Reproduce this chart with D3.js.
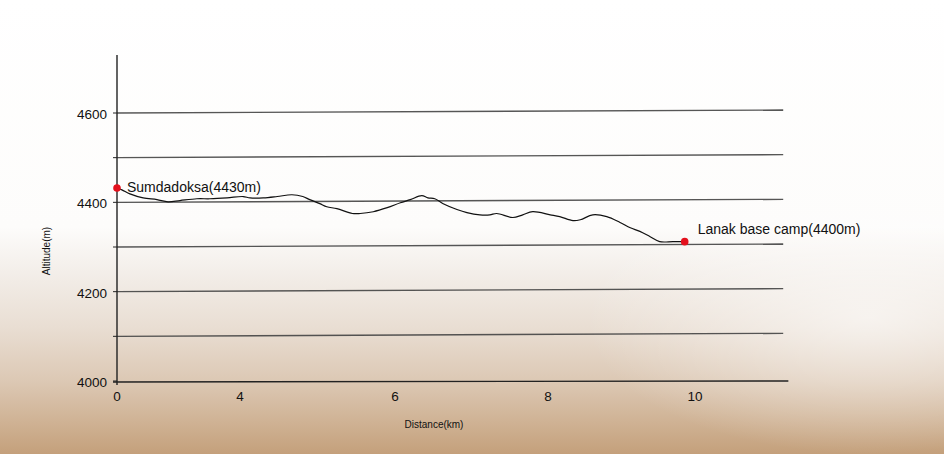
<!DOCTYPE html>
<html>
<head>
<meta charset="utf-8">
<script src="https://cdn.jsdelivr.net/npm/d3@7"></script>
<style>
  html, body { margin: 0; padding: 0; background: #fff; }
  svg { display: block; font-family: "Liberation Sans", Arial, Helvetica, sans-serif; }
</style>
</head>
<body>
<div id="chart"></div>
<script>
// trail profile, distance in km / altitude in m
const distance = [0, 0.16, 0.42, 0.85, 1.30, 1.66, 2.05, 2.60, 3.02, 3.58, 4.04, 4.13, 4.30, 4.48, 4.67,
    4.81, 4.90, 5.03, 5.12, 5.25, 5.45, 5.55, 5.72, 5.90, 6.07, 6.20, 6.35, 6.43, 6.52, 6.63,
    6.81, 6.94, 7.11, 7.24, 7.33, 7.54, 7.67, 7.80, 8.03, 8.16, 8.34, 8.44, 8.61, 8.80, 8.98,
    9.12, 9.25, 9.39, 9.52, 9.70, 9.86];
const altitude = [4432, 4428, 4419, 4410, 4406, 4401, 4404, 4408, 4408, 4410, 4413, 4410, 4410, 4413, 4417,
    4413, 4406, 4397, 4390, 4386, 4375, 4375, 4379, 4388, 4399, 4406, 4415, 4410, 4408, 4397,
    4384, 4377, 4372, 4372, 4375, 4366, 4372, 4379, 4372, 4368, 4359, 4361, 4372, 4368, 4355,
    4343, 4335, 4323, 4312, 4312, 4312];

const xTicks = [0, 4, 6, 8, 10];
const yTicks = [4000, 4200, 4400, 4600];
const gridLevels = [4000, 4100, 4200, 4300, 4400, 4500, 4600];
const places = ['Sumdadoksa(4430m)', 'Lanak base camp(4400m)'];

const width = 944, height = 456;

const svg = d3.select('#chart')
    .append('svg')
    .attr('width', width)
    .attr('height', height);

// paper-ish background, white fading into tan at the bottom
const defs = svg.append('defs');
const bg = defs.append('linearGradient')
    .attr('id', 'bg').attr('x1', 0).attr('y1', 0).attr('x2', 0).attr('y2', 1);
[[0, '#ffffff'], [0.5, '#fdfcfb'], [0.6, '#f3eee9'], [0.72, '#e9ded3'],
 [0.84, '#dcc8b4'], [0.93, '#cfb294'], [1, '#c4a07b']]
    .forEach(s => bg.append('stop').attr('offset', s[0]).attr('stop-color', s[1]));

const glow = defs.append('radialGradient')
    .attr('id', 'glow').attr('cx', 0.92).attr('cy', 0.7).attr('r', 0.3);
glow.append('stop').attr('offset', 0).attr('stop-color', '#fff').attr('stop-opacity', 0.6);
glow.append('stop').attr('offset', 1).attr('stop-color', '#fff').attr('stop-opacity', 0);

svg.append('rect').attr('width', width).attr('height', height - 2).attr('fill', 'url(#bg)');
svg.append('rect').attr('width', width).attr('height', height - 2).attr('fill', 'url(#glow)');

// the hand drawn axis isn't evenly spaced, so use a piecewise scale
const x = d3.scaleLinear()
    .domain(xTicks)
    .range([117, 240, 395, 548, 695]);

const y = d3.scaleLinear()
    .domain([4000, 4600])
    .range([381, 113]);

// horizontal grid lines (slightly skewed, like the original sketch)
svg.append('g')
    .selectAll('line')
    .data(gridLevels.slice(1))
    .enter()
    .append('line')
    .attr('x1', x(0))
    .attr('x2', x(11.2))
    .attr('y1', d => y(d))
    .attr('y2', d => y(d) - 3)
    .attr('stroke', '#444')
    .attr('stroke-width', 1.4)
    .attr('opacity', 0.9);

// x axis
svg.append('line')
    .attr('x1', x(0) - 4).attr('x2', x(11.27))
    .attr('y1', y(4000) + 1).attr('y2', y(4000))
    .attr('stroke', '#222').attr('stroke-width', 1.4);

// y axis
svg.append('line')
    .attr('x1', x(0)).attr('x2', x(0))
    .attr('y1', y(4730)).attr('y2', y(4000) + 4)
    .attr('stroke', '#222').attr('stroke-width', 1.4);

svg.append('g')
    .selectAll('line')
    .data(gridLevels)
    .enter()
    .append('line')
    .attr('x1', x(0) - 4).attr('x2', x(0))
    .attr('y1', d => y(d)).attr('y2', d => y(d))
    .attr('stroke', '#222').attr('stroke-width', 1);

svg.append('g')
    .selectAll('text')
    .data(yTicks)
    .enter()
    .append('text')
    .attr('x', x(0) - 10)
    .attr('y', d => y(d) + 6)
    .attr('text-anchor', 'end')
    .attr('font-size', '13.5px')
    .attr('fill', '#111')
    .text(d => d);

svg.append('g')
    .selectAll('text')
    .data(xTicks)
    .enter()
    .append('text')
    .attr('x', d => x(d))
    .attr('y', 401)
    .attr('text-anchor', 'middle')
    .attr('font-size', '13.5px')
    .attr('fill', '#111')
    .text(d => d);

svg.append('text')
    .attr('x', 434).attr('y', 428)
    .attr('text-anchor', 'middle')
    .attr('font-size', '10px')
    .attr('fill', '#111')
    .text('Distance(km)');

svg.append('text')
    .attr('transform', 'translate(50,251) rotate(-90)')
    .attr('text-anchor', 'middle')
    .attr('font-size', '10px')
    .attr('fill', '#111')
    .text('Altitude(m)');

// profile
const points = distance.map((d, i) => ({ x: d, y: altitude[i] }));

const line = d3.line()
    .x(d => x(d.x))
    .y(d => y(d.y))
    .curve(d3.curveCatmullRom);

svg.append('path')
    .datum(points)
    .attr('fill', 'none')
    .attr('stroke', '#111')
    .attr('stroke-width', 1.2)
    .attr('d', line);

// start / end markers
const ends = [points[0], points[points.length - 1]];

svg.selectAll('.point')
    .data(ends)
    .enter()
    .append('circle')
    .attr('class', 'point')
    .attr('cx', d => x(d.x))
    .attr('cy', d => y(d.y))
    .attr('r', 3.8)
    .style('fill', '#e3101c');

svg.selectAll('.place')
    .data(ends)
    .enter()
    .append('text')
    .attr('class', 'place')
    .attr('x', (d, i) => x(d.x) + (i === 0 ? 10 : 13))
    .attr('y', (d, i) => y(d.y) + (i === 0 ? 4 : -8))
    .attr('font-size', '14px')
    .attr('fill', '#111')
    .text((d, i) => places[i]);
</script>
</body>
</html>
